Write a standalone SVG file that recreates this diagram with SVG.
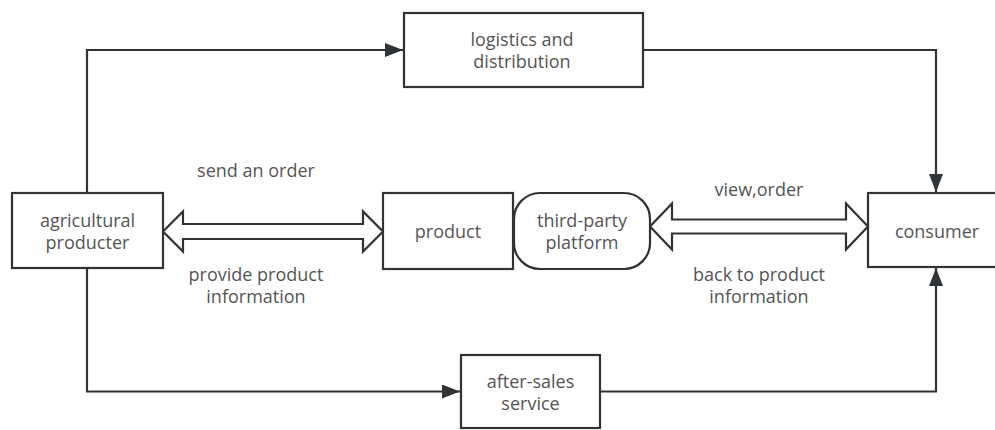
<svg xmlns="http://www.w3.org/2000/svg" width="995" height="430" viewBox="0 0 995 430">
<defs>
<style>
.box{fill:#fff;stroke:#2f3336;stroke-width:2.2}
.ln{fill:none;stroke:#2f3336;stroke-width:2.2}
.dbl{fill:#fff;stroke:#2f3336;stroke-width:2.2;stroke-linejoin:miter}
text{font-family:"Open Sans","Noto Sans","Liberation Sans",sans-serif;font-size:18px;fill:#555;text-anchor:middle}
</style>
<marker id="ah" markerUnits="userSpaceOnUse" markerWidth="20" markerHeight="16" refX="18" refY="7" orient="auto">
<path d="M0,0 L18,7 L0,14 Z" fill="#2f3336"/>
</marker>
</defs>
<rect width="995" height="430" fill="#fff"/>
<g id="connectors">
<path class="ln" d="M87,193 V50 H403" marker-end="url(#ah)"/>
<path class="ln" d="M643,50 H936 V192" marker-end="url(#ah)"/>
<path class="ln" d="M87,268 V391.5 H460" marker-end="url(#ah)"/>
<path class="ln" d="M600,391.5 H936 V268" marker-end="url(#ah)"/>
<polygon class="dbl" points="163,231.5 183,211.5 183,224 363,224 363,211.5 383,231.5 363,251.5 363,239 183,239 183,251.5"/>
<polygon class="dbl" points="650,226.5 672,203.5 672,219.5 846,219.5 846,203.5 868,226.5 846,249.5 846,233.5 672,233.5 672,249.5"/>
<text x="256" y="177">send an order</text>
<text x="256" y="281">provide product</text>
<text x="256" y="303">information</text>
<text x="759" y="196">view,order</text>
<text x="759" y="281">back to product</text>
<text x="759" y="303">information</text>
</g>
<g id="agricultural-producter">
<rect class="box" x="12" y="193" width="151" height="75"/>
<text x="87.5" y="227">agricultural</text>
<text x="87.5" y="249">producter</text>
</g>
<g id="logistics">
<rect class="box" x="404" y="13" width="239" height="74"/>
<text x="522" y="46">logistics and</text>
<text x="522" y="68">distribution</text>
</g>
<g id="product">
<rect class="box" x="383" y="193" width="130" height="76"/>
<text x="448" y="238">product</text>
</g>
<g id="platform">
<rect class="box" x="514" y="193" width="136" height="76" rx="26" ry="26"/>
<text x="582" y="227">third-party</text>
<text x="582" y="249">platform</text>
</g>
<g id="consumer">
<rect class="box" x="868" y="193" width="140" height="74"/>
<text x="937" y="238">consumer</text>
</g>
<g id="after-sales">
<rect class="box" x="461" y="355" width="139" height="73"/>
<text x="530.5" y="388">after-sales</text>
<text x="530.5" y="410">service</text>
</g>
</svg>
